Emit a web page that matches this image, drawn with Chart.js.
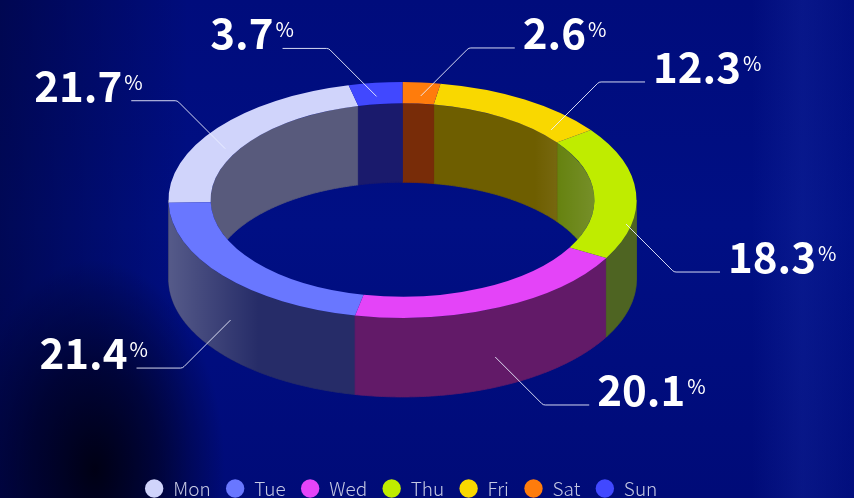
<!DOCTYPE html>
<html>
<head>
<meta charset="utf-8">
<script src="https://cdn.jsdelivr.net/npm/chart.js@4.4.1/dist/chart.umd.min.js"></script>
<style>
html,body{margin:0;padding:0;width:854px;height:498px;overflow:hidden;}
body{
  background:
    radial-gradient(ellipse 130px 210px at 95px 470px, rgba(0,0,18,0.97) 0%, rgba(0,0,25,0.6) 50%, rgba(0,0,40,0) 100%),
    linear-gradient(90deg, rgba(0,0,30,0.45) 0%, rgba(0,0,30,0) 22%, rgba(0,0,0,0) 88%, rgba(30,50,170,0.28) 94%, rgba(10,30,150,0.16) 100%),
    linear-gradient(180deg, #000c7c 0%, #000f84 45%, #000b78 100%);
}
canvas{display:block;}
</style>
</head>
<body>
<canvas id="c" width="854" height="508"></canvas>
<script>
// ---- data ----
const categories = ['Mon', 'Tue', 'Wed', 'Thu', 'Fri', 'Sat', 'Sun'];
const shares = [21.7, 21.4, 20.1, 18.3, 12.3, 2.6, 3.7];

// ---- styles ----
const topColors = ['#d0d4fb', '#6977ff', '#e444f8', '#bfec00', '#f9d800', '#ff7c0c', '#4148ff'];
const innerWallColors = ['#585a7c', '#2a3070', '#5e1a68', '#5c7a00', '#6e5e00', '#782c08', '#1a1a6c'];
const outerWallColors = ['#4a4c70', '#262c68', '#621a68', '#4e6422', '#6a5a00', '#742a08', '#1c1c66'];

const RING = { cx: 402.5, cy: 200, rx: 234, tilt: 0.504, depth: 79 };
const FONT = '"Noto Sans CJK SC", "Noto Sans", sans-serif';

const total = shares.reduce((a, b) => a + b, 0);
const startRotation = shares[shares.length - 1] / total * 360;

function geom(chart) {
  const arc = chart.getDatasetMeta(0).data[0];
  const p = arc.getProps(['x', 'y', 'outerRadius', 'innerRadius'], true);
  const s = RING.rx / p.outerRadius;
  return { ox: p.x, oy: p.y, s, cx: RING.cx, cy: RING.cy, ro: RING.rx, ri: p.innerRadius * s, tilt: RING.tilt, depth: RING.depth };
}
function pt(g, phi, r, dz) {
  return [g.cx - r * Math.cos(phi), g.cy + r * g.tilt * Math.sin(phi) + dz];
}
function wallPath(ctx, g, r, a, b) {
  ctx.beginPath();
  const n = Math.max(2, Math.ceil((b - a) / 0.01));
  for (let k = 0; k <= n; k++) {
    const [x, y] = pt(g, a + (b - a) * k / n, r, 0);
    k ? ctx.lineTo(x, y) : ctx.moveTo(x, y);
  }
  for (let k = n; k >= 0; k--) {
    const [x, y] = pt(g, a + (b - a) * k / n, r, g.depth);
    ctx.lineTo(x, y);
  }
  ctx.closePath();
}
function forVisible(s, e, vs, ve, fn) {
  const T = Math.PI * 2;
  for (let k = -2; k <= 2; k++) {
    const lo = Math.max(s, vs + T * k), hi = Math.min(e, ve + T * k);
    if (hi > lo) fn(lo, hi);
  }
}

const ring3d = {
  id: 'ring3d',
  beforeDatasetsDraw(chart) {
    const ctx = chart.ctx;
    const arcs = chart.getDatasetMeta(0).data;
    const g = geom(chart);
    // inner back wall, seen through the hole
    ctx.save();
    ctx.beginPath();
    ctx.ellipse(g.cx, g.cy, g.ri, g.ri * g.tilt, 0, 0, Math.PI * 2);
    ctx.clip();
    const giw = ctx.createLinearGradient(g.cx + g.ri - 60, 0, g.cx + g.ri, 0);
    giw.addColorStop(0, 'rgba(255,255,255,0)');
    giw.addColorStop(1, 'rgba(255,255,255,0.16)');
    arcs.forEach((arc, i) => {
      forVisible(arc.startAngle, arc.endAngle, Math.PI, 2 * Math.PI, (a, b) => {
        wallPath(ctx, g, g.ri, a, b);
        ctx.fillStyle = innerWallColors[i];
        ctx.strokeStyle = innerWallColors[i];
        ctx.lineWidth = 0.8;
        ctx.fill(); ctx.stroke();
        ctx.fillStyle = giw; ctx.fill();
      });
    });
    ctx.restore();
    // outer front wall
    ctx.save();
    const gow = ctx.createLinearGradient(g.cx - g.ro, 0, g.cx - g.ro + 90, 0);
    gow.addColorStop(0, 'rgba(255,255,255,0.22)');
    gow.addColorStop(1, 'rgba(255,255,255,0)');
    arcs.forEach((arc, i) => {
      forVisible(arc.startAngle, arc.endAngle, 0, Math.PI, (a, b) => {
        wallPath(ctx, g, g.ro, a, b);
        ctx.fillStyle = outerWallColors[i];
        ctx.strokeStyle = outerWallColors[i];
        ctx.lineWidth = 0.8;
        ctx.fill(); ctx.stroke();
        ctx.fillStyle = gow; ctx.fill();
      });
    });
    ctx.restore();
    // top face: squash the library's own arcs into the tilted plane
    ctx.save();
    ctx.translate(g.cx, g.cy);
    ctx.scale(-g.s, g.s * g.tilt);
    ctx.translate(-g.ox, -g.oy);
  },
  afterDatasetsDraw(chart) {
    chart.ctx.restore();
  },
  afterDraw(chart) {
    const ctx = chart.ctx;
    const arcs = chart.getDatasetMeta(0).data;
    const g = geom(chart);
    const ra = g.ro * 0.957, rb = g.ro * 0.585, yoff = g.depth * 0.41;
    const diag = 48, hor = 46, gap = 34;
    const labels = arcs.map((arc, i) => {
      const phi = (arc.startAngle + arc.endAngle) / 2;
      const c = Math.cos(phi), sn = Math.sin(phi);
      const right = c <= 0;
      const down = sn > -0.15;
      const ax = g.cx - ra * c, ay = g.cy + yoff + rb * sn;
      return { i, c, right, down, ax, ay, kx: ax + (right ? diag : -diag), ky: ay + (down ? diag : -diag) };
    });
    [true, false].forEach(side => {
      const grp = labels.filter(l => l.right === side).sort((a, b) => a.ky - b.ky);
      for (let k = 1; k < grp.length; k++) {
        const p = grp[k - 1], l = grp[k];
        if (l.ky < p.ky + gap) {
          const ny = p.ky + gap;
          if (!l.down) {
            const ay = ny + diag;
            let sn = (ay - g.cy - yoff) / rb;
            sn = Math.max(-1, Math.min(1, sn));
            const c = Math.sign(l.c || -1) * Math.sqrt(1 - sn * sn);
            l.ax = g.cx - ra * c; l.ay = ay;
            l.kx = l.ax + (l.right ? diag : -diag);
          }
          l.ky = ny;
        }
      }
    });
    ctx.save();
    labels.forEach(l => {
      const ex = l.kx + (l.right ? hor : -hor);
      ctx.beginPath();
      ctx.moveTo(l.ax, l.ay);
      ctx.arcTo(l.kx, l.ky, ex, l.ky, 5);
      ctx.lineTo(ex, l.ky);
      ctx.strokeStyle = 'rgba(235,238,255,0.9)';
      ctx.lineWidth = 1;
      ctx.stroke();
      const num = shares[l.i].toFixed(1);
      ctx.fillStyle = '#ffffff';
      ctx.textBaseline = 'alphabetic';
      ctx.textAlign = 'left';
      ctx.font = '700 42px ' + FONT;
      const nw = ctx.measureText(num).width;
      const nx = l.right ? ex + 8 : ex - 9 - nw;
      ctx.fillText(num, nx, l.ky + 1);
      ctx.font = '400 20px ' + FONT;
      ctx.fillText('%', nx + nw + 2, l.ky - 11);
    });
    ctx.restore();
  }
};

new Chart(document.getElementById('c'), {
  type: 'doughnut',
  data: {
    labels: categories,
    datasets: [{
      data: shares,
      backgroundColor: topColors,
      borderWidth: 0,
      hoverOffset: 0,
      clip: false
    }]
  },
  options: {
    responsive: false,
    devicePixelRatio: 1,
    animation: false,
    events: [],
    cutout: '82%',
    rotation: startRotation,
    layout: { padding: { right: 52 } },
    plugins: {
      tooltip: { enabled: false },
      legend: {
        position: 'bottom',
        labels: {
          usePointStyle: true,
          pointStyle: 'circle',
          boxWidth: 19,
          boxHeight: 13,
          padding: 15,
          color: '#c4c8e2',
          font: { family: FONT, size: 19, weight: 300 }
        }
      }
    }
  },
  plugins: [ring3d]
});
</script>
</body>
</html>
